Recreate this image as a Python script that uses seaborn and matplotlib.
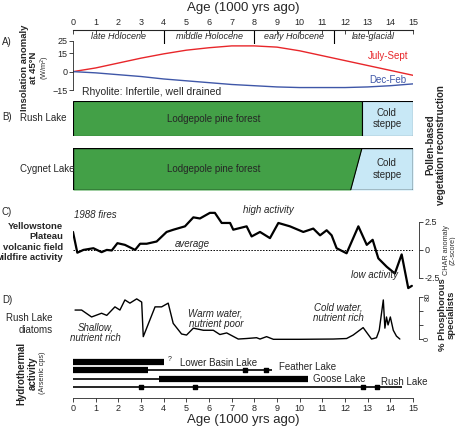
import numpy as np
import pandas as pd
import matplotlib
matplotlib.use('Agg')
import matplotlib.pyplot as plt
import seaborn as sns

sns.set_style('white')
plt.rcParams['font.family'] = ['Liberation Sans', 'DejaVu Sans']

# ---- data ----
ins_age = list(range(16))
jul_sep = [0, 3, 7, 11, 14.5, 17.5, 19.5, 21, 21, 20, 17, 13, 9, 5, 1, -3]
dec_feb = [0, -1, -2.5, -4, -6, -7.5, -9, -10.5, -11.5, -12.5, -13, -13, -13, -12.5, -11.5, -10]

periods = ['late Holocene', 'middle Holocene', 'early Holocene', 'late-glacial']
period_bounds = [0, 4, 8, 11.5, 15]

rush_steppe_start = 12.75
cygnet_steppe_start = [12.25, 12.75]  # bottom, top

char_age = [0, 0.19, 0.46, 0.9, 1.26, 1.49, 1.71, 1.96, 2.29, 2.74, 2.96, 3.25, 3.69, 4.13,
            4.43, 4.94, 5.31, 5.6, 6.04, 6.26, 6.56, 6.93, 7.07, 7.66, 7.88, 8.25, 8.69,
            9.06, 9.57, 10.16, 10.6, 10.9, 11.19, 11.41, 11.63, 12.07, 12.59, 12.96,
            13.22, 13.47, 13.84, 14.2, 14.5, 14.79, 14.95]
char_val = [1.6, -0.25, 0, 0.15, -0.2, 0, -0.05, 0.6, 0.45, 0, 0.55, 0.55, 0.75, 1.6,
            1.8, 2.1, 2.9, 2.8, 3.3, 3.3, 2.4, 2.4, 1.8, 2.1, 1.2, 1.6, 1.05,
            2.4, 2.1, 1.6, 1.9, 1.3, 1.75, 1.3, 0.15, -0.3, 2.1, 0.45,
            0.9, -0.75, -1.5, -2.1, -0.4, -3.4, -3.2]

dia_age = [0.09, 0.38, 0.82, 1.26, 1.49, 1.85, 2.07, 2.29, 2.51, 2.81, 3.03, 3.1, 3.62,
           3.91, 4.2, 4.42, 4.79, 5.01, 5.31, 5.75, 6.19, 6.48, 6.78, 7.29, 7.66, 8.1,
           8.25, 8.54, 8.84, 10.0, 11.48, 12.07, 12.36, 12.8, 13.17, 13.39, 13.51,
           13.69, 13.76, 13.83, 13.9, 14.0, 14.13, 14.27, 14.42]
dia_val = [55, 55, 42, 49, 45, 61, 55, 74, 68, 76, 70, 5, 61,
           61, 68, 30, 10, 8, 21, 17, 17, 9, 12, 0.5, 1.5, 3,
           0.5, 5, 0, 0, 0.5, 1.5, 8, 22, 0.5, 3, 17,
           74, 21, 42, 27, 42, 17, 6, 0.5]

lakes = ['Lower Basin Lake', 'Feather Lake', 'Goose Lake', 'Rush Lake']
thick_spans = [[(0, 4.0)], [(0, 3.3)], [(3.8, 10.35)], []]
thin_spans = [[], [(3.3, 8.8)], [(0, 3.8)], [(0, 14.5)]]
dates = [[], [7.6, 8.5], [], [3.0, 5.4, 12.8, 13.4]]
label_x = [4.7, 9.1, 10.6, 13.6]
label_dy = [0.1, -0.35, 0, -0.6]

W, H = 456, 426
fig = plt.figure(figsize=(W / 100, H / 100), dpi=100)


def add_ax(top, bottom, left=73, right=413):
    return fig.add_axes([left / W, 1 - bottom / H, (right - left) / W, (bottom - top) / H])


def clean(ax):
    for s in ax.spines.values():
        s.set_visible(False)
    ax.set_xlim(0, 15)
    ax.set_xticks([])
    ax.set_yticks([])
    ax.patch.set_alpha(0)


fs = 6.5
ticks15 = list(range(16))

# ---- top age axis + periods ----
axT = add_ax(30, 44)
clean(axT)
axT.spines['top'].set_visible(True)
axT.spines['top'].set_linewidth(0.8)
axT.set_ylim(0, 1)
axT.xaxis.tick_top()
axT.set_xticks(ticks15)
axT.tick_params(axis='x', direction='in', length=3, labelsize=fs, pad=2, width=0.6)
axT.set_title('Age (1000 yrs ago)', fontsize=9.5, pad=14)
for i, p in enumerate(periods):
    axT.text((period_bounds[i] + period_bounds[i + 1]) / 2, 0.55, p, ha='center', va='center',
             fontsize=6.5, style='italic')
for b in period_bounds[1:-1]:
    axT.plot([b, b], [0, 1], color='k', lw=0.8)

# ---- panel A ----
axA = add_ax(41, 90)
clean(axA)
axA.set_ylim(-15, 25)
axA.spines['left'].set_visible(True)
axA.spines['left'].set_linewidth(0.6)
axA.set_yticks([25, 15, 0, -15])
axA.tick_params(axis='y', labelsize=fs, length=3, width=0.6, pad=1, left=True)
dfA = pd.DataFrame({'age': ins_age, 'jul': jul_sep, 'dec': dec_feb})
sns.lineplot(data=dfA, x='age', y='jul', ax=axA, color='#e8262a', lw=1)
sns.lineplot(data=dfA, x='age', y='dec', ax=axA, color='#3f57a8', lw=1)
axA.set_xlabel('')
axA.set_ylabel('')
axA.set_xticks([])
axA.text(13.9, 10.5, 'July-Sept', color='#e8262a', fontsize=7, ha='center')
axA.text(13.9, -9.5, 'Dec-Feb', color='#3f57a8', fontsize=7, ha='center')
fig.text(2 / W, 1 - 42 / H, 'A)', fontsize=7, va='center')
fig.text(29 / W, 1 - 68 / H, 'Insolation anomaly\nat 45°N', rotation=90, fontsize=6.8,
         fontweight='bold', ha='center', va='center', linespacing=1.1)
fig.text(45 / W, 1 - 68 / H, '(W/m$^2$)', rotation=90, fontsize=5.2, ha='center', va='center')

# ---- panel B ----
green, blue = '#43a047', '#c8e8f6'
axB1 = add_ax(101, 136)
clean(axB1)
axB1.set_ylim(0, 1)
axB1.barh(0.5, rush_steppe_start, left=0, height=1, color=green, edgecolor='k', lw=0.8)
axB1.barh(0.5, 15 - rush_steppe_start, left=rush_steppe_start, height=1, color=blue,
          edgecolor='k', lw=0.8)
axB1.text(6.2, 0.5, 'Lodgepole pine forest', ha='center', va='center', fontsize=7)
axB1.text(13.85, 0.5, 'Cold\nsteppe', ha='center', va='center', fontsize=7)
axB1.text(0.4, 1.12, 'Rhyolite: Infertile, well drained', fontsize=7.5, va='bottom')

axB2 = add_ax(148, 190)
clean(axB2)
axB2.set_ylim(0, 1)
axB2.fill_betweenx([0, 1], [0, 0], cygnet_steppe_start, color=green, lw=0)
axB2.fill_betweenx([0, 1], cygnet_steppe_start, [15, 15], color=blue, lw=0)
axB2.plot(cygnet_steppe_start, [0, 1], color='k', lw=0.8)
axB2.plot([0, 15, 15, 0, 0], [0, 0, 1, 1, 0], color='k', lw=1)
axB2.text(6.2, 0.5, 'Lodgepole pine forest', ha='center', va='center', fontsize=7)
axB2.text(13.85, 0.5, 'Cold\nsteppe', ha='center', va='center', fontsize=7)
fig.text(2 / W, 1 - 117 / H, 'B)', fontsize=7, va='center')
fig.text(20 / W, 1 - 118 / H, 'Rush Lake', fontsize=7, va='center')
fig.text(20 / W, 1 - 169 / H, 'Cygnet Lake', fontsize=7, va='center')
fig.text(436 / W, 1 - 145 / H, 'Pollen-based\nvegetation reconstruction', rotation=90,
         fontsize=7, fontweight='bold', ha='center', va='center', linespacing=1.1)

# ---- panel C ----
axC = add_ax(205, 290)
clean(axC)
axC.set_ylim(-3.57, 4.0)
dfC = pd.DataFrame({'age': char_age, 'z': char_val})
sns.lineplot(data=dfC, x='age', y='z', ax=axC, color='k', lw=1.6)
axC.axhline(0, color='k', lw=0.7, ls=(0, (1.5, 1.5)))
axC.set_xlabel('')
axC.set_ylabel('')
axC.set_xticks([])
axC.spines['right'].set_visible(True)
axC.spines['right'].set_position(('data', 15.25))
axC.spines['right'].set_bounds(-2.5, 2.5)
axC.spines['right'].set_linewidth(0.6)
axC.yaxis.tick_right()
axC.set_yticks([2.5, 0, -2.5])
axC.set_yticklabels(['2.5', '0', '-2.5'])
axC.tick_params(axis='y', labelsize=fs, length=3, width=0.6, pad=1, right=True)
axC.text(0.05, 2.8, '1988 fires', fontsize=7, style='italic')
axC.text(4.5, 0.3, 'average', fontsize=7, style='italic')
axC.text(8.6, 3.3, 'high activity', fontsize=7, style='italic', ha='center')
axC.text(13.3, -2.5, 'low activity', fontsize=7, style='italic', ha='center')
fig.text(2 / W, 1 - 212 / H, 'C)', fontsize=7, va='center')
fig.text(63 / W, 1 - 242 / H, 'Yellowstone\nPlateau\nvolcanic field\nwildfire activity',
         fontsize=6.8, fontweight='bold', ha='right', va='center', linespacing=1.15)
fig.text(450 / W, 1 - 250 / H, 'CHAR anomaly\n(Z-score)', rotation=90, fontsize=5.2,
         ha='center', va='center', color='#333333', linespacing=1.0)

# ---- panel D ----
axD = add_ax(290, 345)
clean(axD)
axD.set_ylim(-10.7, 92.7)
dfD = pd.DataFrame({'age': dia_age, 'pct': dia_val})
sns.lineplot(data=dfD, x='age', y='pct', ax=axD, color='k', lw=1)
axD.set_xlabel('')
axD.set_ylabel('')
axD.set_xticks([])
axD.spines['right'].set_visible(True)
axD.spines['right'].set_position(('data', 15.25))
axD.spines['right'].set_bounds(0, 80)
axD.spines['right'].set_linewidth(0.6)
axD.yaxis.tick_right()
axD.set_yticks([0, 26.7, 53.3, 80])
axD.set_yticklabels(['0', '', '', '80'], rotation=90, va='center')
axD.tick_params(axis='y', labelsize=5.5, length=3, width=0.6, pad=1, right=True)
axD.text(1.0, 12, 'Shallow,\nnutrient rich', fontsize=7, style='italic', ha='center',
         va='center', linespacing=1.1)
axD.text(6.3, 38, 'Warm water,\nnutrient poor', fontsize=7, style='italic', ha='center',
         va='center', linespacing=1.1)
axD.text(11.7, 50, 'Cold water,\nnutrient rich', fontsize=7, style='italic', ha='center',
         va='center', linespacing=1.1)
fig.text(2 / W, 1 - 300 / H, 'D)', fontsize=7, va='center')
fig.text(53 / W, 1 - 324 / H, 'Rush Lake\ndiatoms', fontsize=7, ha='right', va='center',
         linespacing=1.3)
fig.text(447 / W, 1 - 315 / H, '% Phosphorous\nspecialists', rotation=90, fontsize=6.8,
         fontweight='bold', ha='center', va='center', linespacing=1.05)

# ---- hydrothermal ----
axH = add_ax(355, 398)
clean(axH)
axH.set_ylim(4.32, -0.84)
for i, lake in enumerate(lakes):
    for a, b in thick_spans[i]:
        axH.plot([a, b], [i, i], color='k', lw=4.5, solid_capstyle='butt')
    for a, b in thin_spans[i]:
        axH.plot([a, b], [i, i], color='k', lw=1.2, solid_capstyle='butt')
    if dates[i]:
        axH.scatter(dates[i], [i] * len(dates[i]), marker='s', s=9, color='k', zorder=3)
    axH.text(label_x[i], i + label_dy[i], lake, fontsize=7, va='center')
axH.text(4.2, -0.3, '?', fontsize=5, va='center')
axH.spines['bottom'].set_visible(True)
axH.spines['bottom'].set_linewidth(0.6)
axH.set_xticks(ticks15)
axH.tick_params(axis='x', labelsize=fs, length=3, width=0.6, pad=1, bottom=True)
axH.set_xlabel('Age (1000 yrs ago)', fontsize=9.5, labelpad=1)
fig.text(27 / W, 1 - 373 / H, 'Hydrothermal\nactivity', rotation=90, fontsize=7,
         fontweight='bold', ha='center', va='center', linespacing=1.1)
fig.text(43 / W, 1 - 373 / H, '(Arsenic cps)', rotation=90, fontsize=5.2, ha='center',
         va='center')

fig.savefig('out.png', dpi=100)
